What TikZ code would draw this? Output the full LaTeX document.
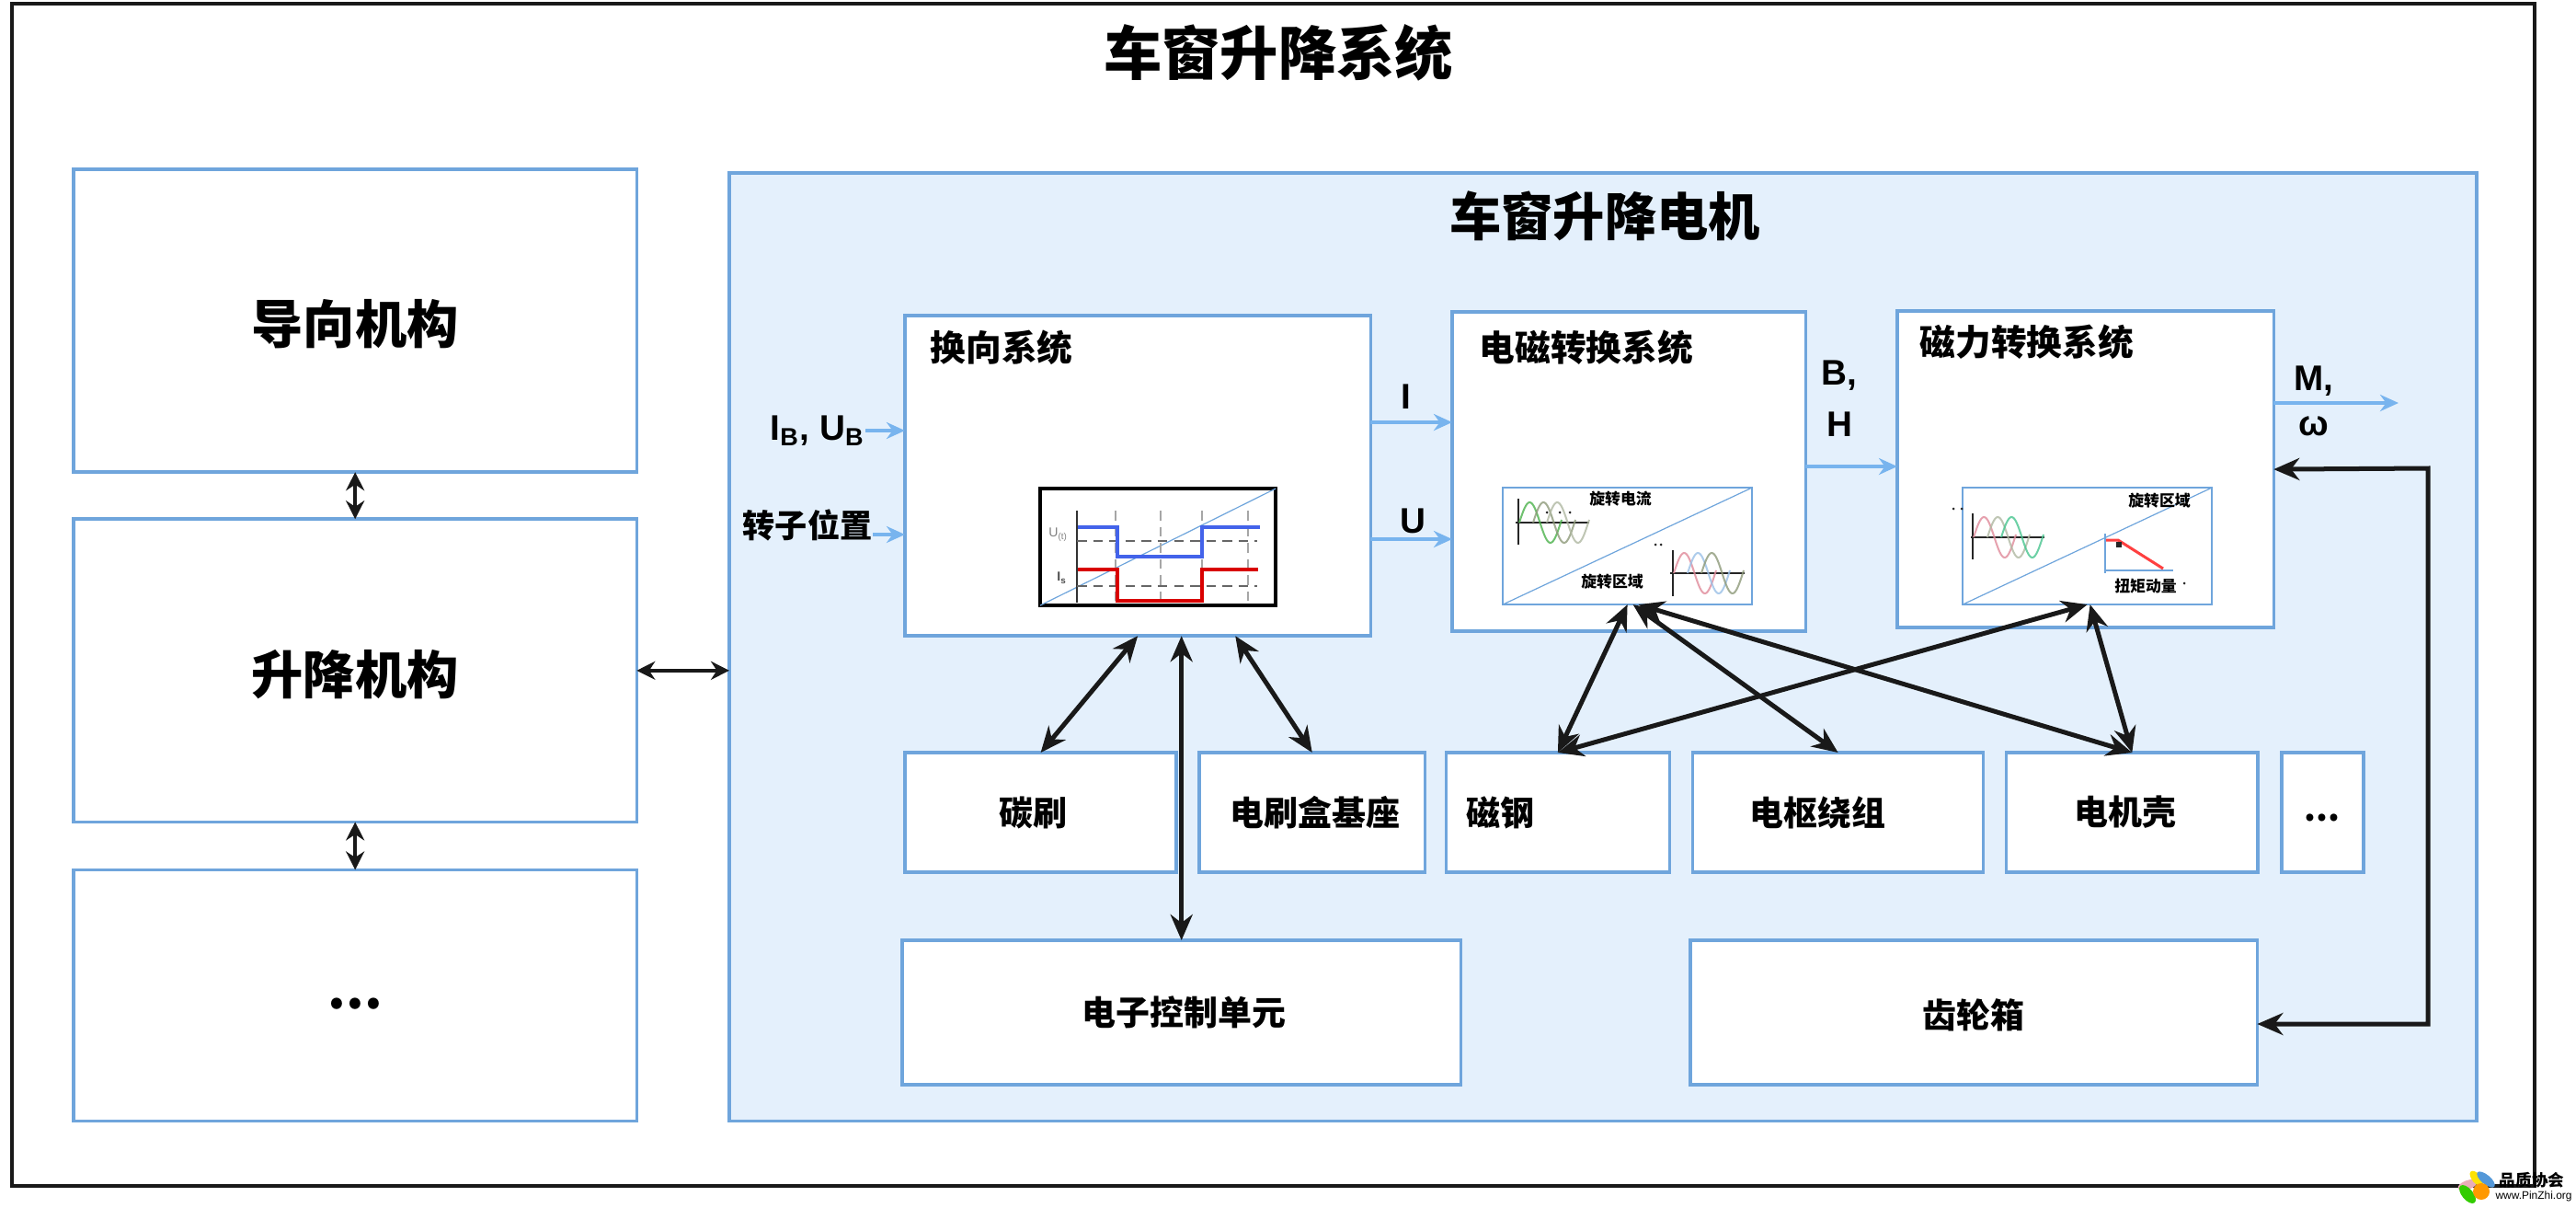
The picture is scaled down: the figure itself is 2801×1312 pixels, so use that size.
\documentclass[tikz,border=0pt]{standalone}
\usepackage{fontspec}
\setmainfont{Liberation Sans}
\newfontfamily\cjk{Noto Sans CJK SC}
\usetikzlibrary{positioning, arrows.meta, shapes.geometric}
\definecolor{boxblue}{HTML}{6FA5DC}
\definecolor{panelblue}{HTML}{E4F0FC}
\definecolor{flowblue}{HTML}{78B4EE}
\definecolor{waveolive}{HTML}{8E9A7A}
\definecolor{wavepink}{HTML}{E08A9A}
\begin{document}
\begin{tikzpicture}[
        x=0.01cm, y=-0.01cm,
        >={Stealth[length=0.28cm, width=0.24cm]},
        whitebox/.style={rectangle, draw=boxblue, fill=white, line width=0.035cm, inner sep=0pt, outer sep=0pt, anchor=north west},
        sidebox/.style={whitebox, minimum width=6.12cm, font=\cjk\bfseries\fontsize{16}{18}\selectfont},
        sysbox/.style={whitebox},
        partbox/.style={whitebox, minimum height=1.30cm, font=\cjk\bfseries\fontsize{10.5}{12}\selectfont},
        unitbox/.style={whitebox, minimum height=1.57cm, font=\cjk\bfseries\fontsize{10.5}{12}\selectfont},
        insetbox/.style={rectangle, draw=boxblue, fill=white, line width=0.025cm, inner sep=0pt, outer sep=0pt, minimum width=2.71cm, minimum height=1.27cm, anchor=north west},
        systitle/.style={anchor=north west, inner sep=0pt, font=\cjk\bfseries\fontsize{11}{13}\selectfont},
        flowlabel/.style={inner sep=0pt, font=\bfseries\fontsize{11}{13}\selectfont},
        tinylabel/.style={inner sep=0pt, font=\cjk\bfseries\fontsize{4.8}{5}\selectfont},
        linkarrow/.style={<->, line width=0.05cm, black!90},
        shortlink/.style={{Stealth[length=0.2cm, width=0.2cm]}-{Stealth[length=0.2cm, width=0.2cm]}, line width=0.045cm, black!90},
        flowarrow/.style={-{Stealth[length=0.2cm, width=0.18cm]}, line width=0.035cm, flowblue},
        wave/.style={line width=0.02cm, opacity=0.8},
        axisline/.style={line width=0.025cm, black!85},
        blurmark/.style={fill=black!85, inner sep=0pt, minimum size=0.03cm, circle},
        ]
        \useasboundingbox (0,0) rectangle (2801,1312);

        %Frame and titles
        \node[rectangle, draw=black!90, line width=0.04cm, inner sep=0pt, outer sep=0pt, anchor=north west, minimum width=27.41cm, minimum height=12.84cm] (frame) at (13,4) {};
        \node[inner sep=0pt, font=\cjk\bfseries\fontsize{18}{20}\selectfont] (maintitle) at (1390,57) {车窗升降系统};
        \node[whitebox, fill=panelblue, minimum width=18.99cm, minimum height=10.30cm] (panel) at (793,188) {};
        \node[inner sep=0pt, font=\cjk\bfseries\fontsize{16}{18}\selectfont] (paneltitle) at (1745,235) {车窗升降电机};

        %Left column
        \node[sidebox, minimum height=3.29cm] (guide) at (80,184) {\raisebox{-0.04cm}[\height][\depth]{导向机构}};
        \node[sidebox, minimum height=3.29cm] (lift) [below=0.51cm of guide.south west, anchor=north west] {\raisebox{-0.04cm}[\height][\depth]{升降机构}};
        \node[sidebox, minimum height=2.73cm] (more) [below=0.52cm of lift.south west, anchor=north west] {\raisebox{-0.14cm}[0pt][0pt]{...}};

        %Systems
        \node[sysbox, minimum width=5.06cm, minimum height=3.48cm] (commute) at (984,343) {};
        \node[sysbox, minimum width=3.84cm, minimum height=3.47cm] (emconv) at (1579,339) {};
        \node[sysbox, minimum width=4.09cm, minimum height=3.44cm] (magconv) at (2063,338) {};
        \node[systitle] (commutetitle) at (1011,358) {换向系统};
        \node[systitle] (emtitle) at (1608,358) {电磁转换系统};
        \node[systitle] (magtitle) at (2087,352) {磁力转换系统};

        %Parts
        \node[partbox, minimum width=2.95cm] (brush) at (984,818) {碳刷\kern0.16cm\mbox{}};
        \node[partbox, minimum width=2.45cm] (brushbase) [right=0.25cm of brush] {\kern0.06cm 电刷盒基座};
        \node[partbox, minimum width=2.43cm] (magnet) [right=0.23cm of brushbase] {磁钢\kern1.24cm\mbox{}};
        \node[partbox, minimum width=3.16cm] (winding) [right=0.25cm of magnet] {电枢绕组\kern0.44cm\mbox{}};
        \node[partbox, minimum width=2.73cm] (housing) [right=0.25cm of winding] {电机壳\kern0.14cm\mbox{}};
        \node[partbox, minimum width=0.89cm] (partmore) [right=0.26cm of housing] {\raisebox{-0.09cm}[0pt][0pt]{...}};
        \node[unitbox, minimum width=6.07cm] (ecu) at (981,1022) {\kern0.06cm 电子控制单元};
        \node[unitbox, minimum width=6.16cm] (gearbox) at (1838,1022) {\raisebox{-0.03cm}[\height][\depth]{齿轮箱}};

        %Inset of the commutation system
        \node[insetbox, draw=black, line width=0.04cm, minimum width=2.56cm] (insetone) at (1131,531) {};
        \draw[boxblue, line width=0.012cm] (insetone.south west) -- (insetone.north east);
        \foreach \gridx in {1213,1262,1307,1357}
            \draw[black!35, densely dashed, line width=0.018cm] (\gridx,555) -- (\gridx,655);
        \draw[black!80, line width=0.025cm] (1171,555) -- (1171,655);
        \foreach \gridy in {588,637}
            \draw[black!60, densely dashed, line width=0.02cm] (1171,\gridy) -- (1367,\gridy);
        \draw[blue!40!boxblue, line width=0.04cm] (1172,573) -- (1215,573) -- (1215,605) -- (1307,605) -- (1307,573) -- (1370,573);
        \draw[red!85!black, line width=0.035cm] (1172,619) -- (1215,619) -- (1215,653) -- (1307,653) -- (1307,619) -- (1368,619);
        \node[inner sep=0pt, text=black!50, font=\fontsize{4}{5}\selectfont] (ulabel) at (1151,581) {U\textsubscript{(t)}};
        \node[inner sep=0pt, text=black!70, font=\bfseries\fontsize{4}{5}\selectfont] (ilabel) at (1155,628) {I\textsubscript{s}};

        %Inset of the electromagnetic system
        \node[insetbox] (insettwo) at (1634,530) {};
        \draw[boxblue, line width=0.012cm] (insettwo.south west) -- (insettwo.north east);
        \draw[axisline] (1651,542) -- (1651,592);
        \draw[axisline] (1648,568) -- (1728,568);
        \foreach \waveshift/\wavecol in {0/green!40!gray, 15/waveolive, 30/waveolive!70}
            \draw[wave, \wavecol] plot[domain=0:46, samples=40] ({1652+\waveshift+\x},{568-22*sin(\x*8)});
        \foreach \markx in {1682,1696,1707}
            \node[blurmark] at (\markx,557) {};
        \node[tinylabel] (currentlabel) at (1762,542) {旋转电流};
        \node[tinylabel] (areatwo) at (1753,632) {旋转区域};
        \foreach \markx in {1800,1806}
            \node[blurmark] at (\markx,592) {};
        \draw[axisline] (1819,598) -- (1819,648);
        \draw[axisline] (1816,623) -- (1897,623);
        \foreach \waveshift/\wavecol in {0/wavepink, 15/boxblue!70, 30/waveolive}
            \draw[wave, \wavecol] plot[domain=0:46, samples=40] ({1820+\waveshift+\x},{623-22*sin(\x*8)});

        %Inset of the magnetic system
        \node[insetbox] (insetthree) at (2134,530) {};
        \draw[boxblue, line width=0.012cm] (insetthree.south west) -- (insetthree.north east);
        \foreach \markx in {2124,2133}
            \node[blurmark] at (\markx,553) {};
        \draw[axisline] (2145,558) -- (2145,608);
        \draw[axisline] (2143,584) -- (2223,584);
        \foreach \waveshift/\wavecol in {0/wavepink, 15/waveolive!70, 30/green!35!boxblue}
            \draw[wave, \wavecol] plot[domain=0:46, samples=40] ({2146+\waveshift+\x},{584-22*sin(\x*8)});
        \node[tinylabel] (areathree) at (2348,544) {旋转区域};
        \draw[boxblue, line width=0.02cm] (2289,580) -- (2289,623);
        \draw[boxblue, line width=0.012cm] (2288,620) -- (2363,620);
        \draw[red!75!white, line width=0.03cm] (2290,587) -- (2303,587) -- (2352,618);
        \node[rectangle, fill=black!85, inner sep=0pt, minimum size=0.06cm] (opmark) at (2304,592) {};
        \node[tinylabel] (torquelabel) at (2333,637) {扭矩动量};
        \node[blurmark] at (2375,634) {};

        %Signal labels
        \node[flowlabel] (ibub) at (889,468) {I\textsubscript{B}, U\textsubscript{B}};
        \node[inner sep=0pt, font=\cjk\bfseries\fontsize{10}{12}\selectfont] (rotorpos) at (878,571) {转子位置};
        \node[flowlabel] (iflow) at (1529,431) {I};
        \node[flowlabel] (uflow) at (1536,566) {U};
        \node[flowlabel, align=center] (bhflow) at (2000,433) {B,\\[0.1cm]H};
        \node[flowlabel] (mflow) at (2516,414) {M,};
        \node[flowlabel] (omegaflow) at (2516,463) {ω};
        \coordinate (torqueout) at (2608,438);
        \coordinate (railright) at (2640,509);

        %Signal lines
        \draw[flowarrow] (ibub.east) -- (ibub.east -| commute.west);
        \draw[flowarrow] ([yshift=-0.1cm]rotorpos.east) -- ([yshift=-0.1cm]rotorpos.east -| commute.west);
        \draw[flowarrow] (commute.east |- 0,459) -- (emconv.west |- 0,459);
        \draw[flowarrow] (commute.east |- 0,586) -- (emconv.west |- 0,586);
        \draw[flowarrow] (emconv.east |- 0,507) -- (magconv.west |- 0,507);
        \draw[flowarrow] (magconv.east |- torqueout) -- (torqueout);

        %Links
        \draw[shortlink] (guide.south) -- (lift.north);
        \draw[shortlink] (lift.south) -- (more.north);
        \draw[shortlink] (lift.east) -- (lift.east -| panel.west);
        \draw[linkarrow] (commute.south) -- (brush.north);
        \draw[linkarrow] ([xshift=1.06cm]commute.south) -- (brushbase.north);
        \draw[linkarrow] (ecu.north |- commute.south) -- (ecu.north);
        \draw[linkarrow] (insettwo.south) -- (magnet.north);
        \draw[linkarrow] ([xshift=0.06cm]insettwo.south) -- (winding.north);
        \draw[linkarrow] ([xshift=0.12cm]insettwo.south) -- (housing.north);
        \draw[linkarrow] (insetthree.south) -- (magnet.north);
        \draw[linkarrow] ([xshift=0.03cm]insetthree.south) -- (housing.north);
        \draw[linkarrow] (magconv.east) -- (railright) -- (railright |- 0,1113) -- (gearbox.east |- 0,1113);

        %Logo
        \fill[wavepink!70, rotate around={20:(2683,1288)}] (2683,1288) ellipse (11 and 5);
        \fill[yellow!85!orange, rotate around={-50:(2693,1281)}] (2693,1281) ellipse (10 and 5);
        \fill[cyan!60!blue!70, rotate around={-40:(2703,1282)}] (2703,1282) ellipse (12 and 5);
        \fill[green!60!olive, rotate around={-50:(2683,1298)}] (2683,1298) ellipse (12 and 6);
        \fill[orange!80!yellow] (2698,1295) circle (9);
        \node[inner sep=0pt, font=\cjk\bfseries\fontsize{5}{6}\selectfont] (logotext) at (2753,1283) {品质协会};
        \node[inner sep=0pt, font=\fontsize{3.4}{4}\selectfont] (logourl) at (2755,1300) {www.PinZhi.org};
\end{tikzpicture}
\end{document}
